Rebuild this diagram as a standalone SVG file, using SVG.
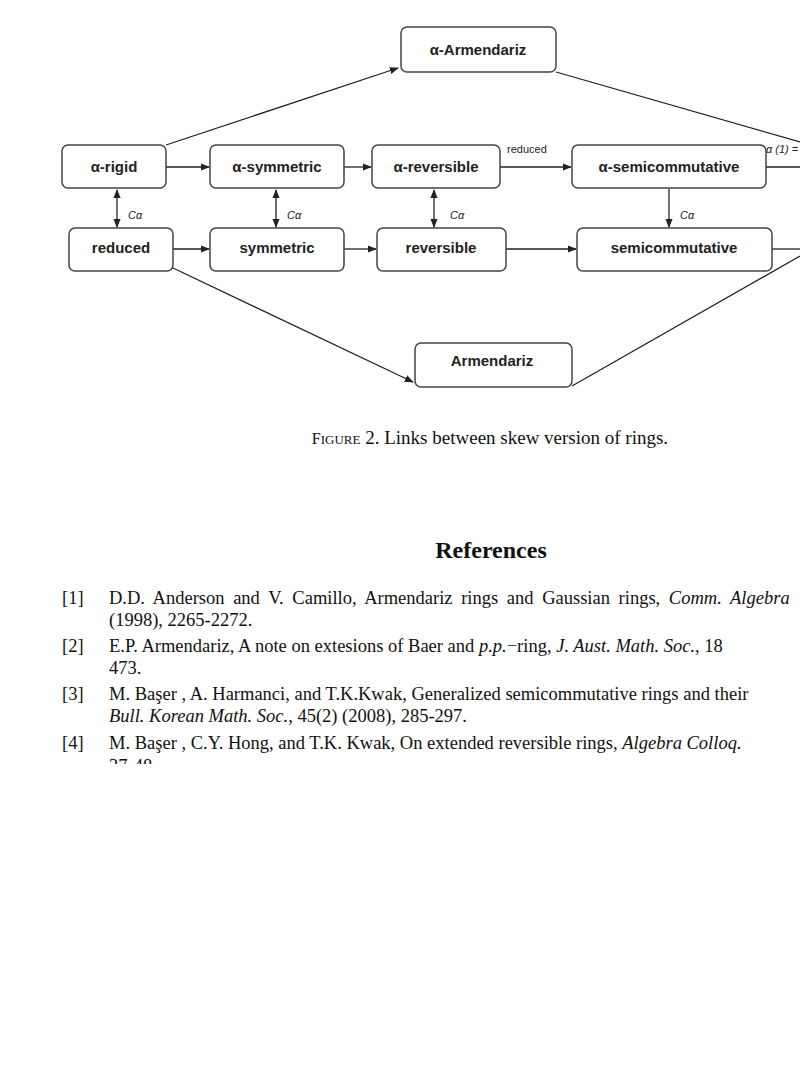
<svg xmlns="http://www.w3.org/2000/svg" width="800" height="1066" viewBox="0 0 800 1066">
<style>
.n rect{fill:#fff;stroke:#444;stroke-width:1.5}
.n text{font-family:"Liberation Sans",Arial,sans-serif;font-weight:bold;font-size:15px;fill:#222;text-anchor:middle}
.c line,.c polyline{stroke:#222;stroke-width:1.3;fill:none}
.lb{font-family:"Liberation Sans",Arial,sans-serif;font-size:11px;font-style:italic;fill:#222}
.r{font-family:"Liberation Serif","Times New Roman",serif;font-size:18.5px;fill:#111}
</style>
<defs>
<marker id="a" viewBox="0 0 10 10" refX="9" refY="5" markerWidth="7" markerHeight="7" orient="auto-start-reverse"><path d="M0,1 L10,5 L0,9 z" fill="#222"/></marker>
<clipPath id="cp"><rect x="0" y="0" width="800" height="764"/></clipPath>
</defs>
<g class="c">
<line x1="166" y1="145" x2="398" y2="68" marker-end="url(#a)"/>
<line x1="556" y1="72" x2="800" y2="142"/>
<line x1="766" y1="167" x2="800" y2="167"/>
<line x1="772" y1="249" x2="800" y2="249"/>
<line x1="572" y1="386" x2="800" y2="256"/>
<line x1="173" y1="268" x2="413" y2="382" marker-end="url(#a)"/>
<line x1="166" y1="167" x2="209" y2="167" marker-end="url(#a)"/>
<line x1="344" y1="167" x2="371" y2="167" marker-end="url(#a)"/>
<line x1="500" y1="167" x2="571" y2="167" marker-end="url(#a)"/>
<line x1="173" y1="249" x2="209" y2="249" marker-end="url(#a)"/>
<line x1="344" y1="249" x2="376" y2="249" marker-end="url(#a)"/>
<line x1="506" y1="249" x2="576" y2="249" marker-end="url(#a)"/>
<line x1="117" y1="190" x2="117" y2="227" marker-start="url(#a)" marker-end="url(#a)"/>
<line x1="276" y1="190" x2="276" y2="227" marker-start="url(#a)" marker-end="url(#a)"/>
<line x1="434" y1="190" x2="434" y2="227" marker-start="url(#a)" marker-end="url(#a)"/>
<line x1="669" y1="189" x2="669" y2="227" marker-end="url(#a)"/>
</g>
<text class="lb" x="128" y="219">Cα</text>
<text class="lb" x="287" y="219">Cα</text>
<text class="lb" x="450" y="219">Cα</text>
<text class="lb" x="680" y="219">Cα</text>
<text class="lb" x="507" y="153" style="font-style:normal">reduced</text>
<text class="lb" x="766" y="153">α (1) =</text>
<g id="aArm" class="n"><rect x="401" y="27" width="155" height="45" rx="6"/><text x="478" y="55">α-Armendariz</text></g>
<g id="arigid" class="n"><rect x="62" y="145" width="104" height="43" rx="6"/><text x="114" y="172">α-rigid</text></g>
<g id="asym" class="n"><rect x="210" y="145" width="134" height="43" rx="6"/><text x="277" y="172">α-symmetric</text></g>
<g id="arev" class="n"><rect x="372" y="145" width="128" height="43" rx="6"/><text x="436" y="172">α-reversible</text></g>
<g id="asemi" class="n"><rect x="572" y="145" width="194" height="43" rx="6"/><text x="669" y="172">α-semicommutative</text></g>
<g id="reduced" class="n"><rect x="69" y="228" width="104" height="43" rx="6"/><text x="121" y="253">reduced</text></g>
<g id="sym" class="n"><rect x="210" y="228" width="134" height="43" rx="6"/><text x="277" y="253">symmetric</text></g>
<g id="rev" class="n"><rect x="377" y="228" width="129" height="43" rx="6"/><text x="441" y="253">reversible</text></g>
<g id="semi" class="n"><rect x="577" y="228" width="195" height="43" rx="6"/><text x="674" y="253">semicommutative</text></g>
<g id="Arm" class="n"><rect x="415" y="343" width="157" height="44" rx="6"/><text x="492" y="366">Armendariz</text></g>
<text class="r" x="490" y="444" text-anchor="middle" style="font-size:19px"><tspan style="font-size:16px">F</tspan><tspan style="font-size:13px">IGURE</tspan> 2.  Links between skew version of rings.</text>
<text class="r" x="491" y="558" text-anchor="middle" style="font-weight:bold;font-size:24px">References</text>
<g clip-path="url(#cp)">
<text class="r" x="62" y="604">[1]</text>
<text class="r" x="109" y="604" word-spacing="4">D.D. Anderson and V. Camillo, Armendariz rings and Gaussian rings, <tspan font-style="italic">Comm. Algebra</tspan></text>
<text class="r" x="109" y="626">(1998), 2265-2272.</text>
<text class="r" x="62" y="652">[2]</text>
<text class="r" x="109" y="652">E.P. Armendariz, A note on extesions of Baer and <tspan font-style="italic">p.p.</tspan>−ring, <tspan font-style="italic">J. Aust. Math. Soc.</tspan>, 18</text>
<text class="r" x="109" y="674">473.</text>
<text class="r" x="62" y="700">[3]</text>
<text class="r" x="109" y="700">M. Başer , A. Harmanci, and T.K.Kwak, Generalized semicommutative rings and their</text>
<text class="r" x="109" y="722"><tspan font-style="italic">Bull. Korean Math. Soc.</tspan>, 45(2) (2008), 285-297.</text>
<text class="r" x="62" y="749">[4]</text>
<text class="r" x="109" y="749">M. Başer , C.Y. Hong, and T.K. Kwak, On extended reversible rings, <tspan font-style="italic">Algebra Colloq.</tspan></text>
<text class="r" x="109" y="772">37-48.</text>
</g>
</svg>
